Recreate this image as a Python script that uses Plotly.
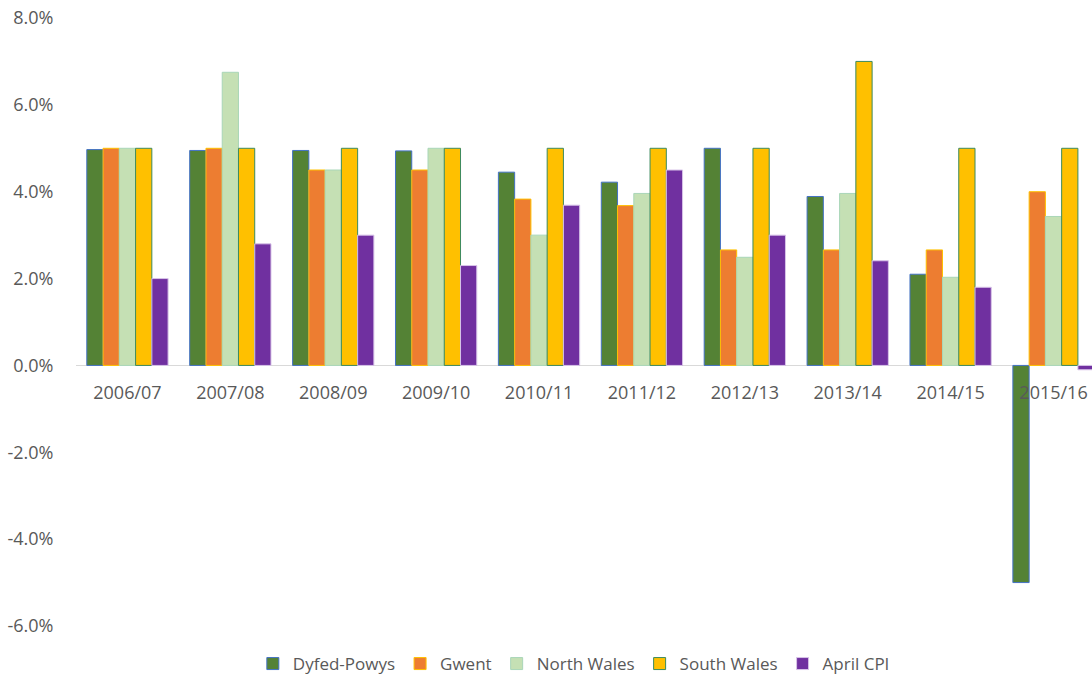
import plotly.graph_objects as go

# Annual change by force area vs April CPI (%)
years = ["2006/07", "2007/08", "2008/09", "2009/10", "2010/11",
         "2011/12", "2012/13", "2013/14", "2014/15", "2015/16"]

dyfed_powys = [4.97, 4.95, 4.95, 4.94, 4.45, 4.22, 5.0, 3.89, 2.1, -5.0]
gwent = [5.0, 5.0, 4.5, 4.5, 3.83, 3.68, 2.66, 2.66, 2.66, 4.0]
north_wales = [5.0, 6.75, 4.5, 5.0, 3.0, 3.96, 2.49, 3.96, 2.03, 3.43]
south_wales = [5.0, 5.0, 5.0, 5.0, 5.0, 5.0, 5.0, 7.0, 5.0, 5.0]
april_cpi = [2.0, 2.8, 3.0, 2.3, 3.69, 4.5, 3.0, 2.41, 1.8, -0.1]

y_tick_values = [-6, -4, -2, 0, 2, 4, 6, 8]
y_tick_labels = ["-6.0%", "-4.0%", "-2.0%", "0.0%", "2.0%", "4.0%", "6.0%", "8.0%"]

series = [
    ("Dyfed-Powys", dyfed_powys, "#548235", "#4472C4"),
    ("Gwent", gwent, "#ED7D31", "#FFC000"),
    ("North Wales", north_wales, "#C5E0B4", "#A9D6B8"),
    ("South Wales", south_wales, "#FFC000", "#3C8A5E"),
    ("April CPI", april_cpi, "#7030A0", "#D8C4E8"),
]

fig = go.Figure()
for name, vals, fill, edge in series:
    fig.add_trace(go.Bar(
        name=name, x=years, y=vals,
        marker=dict(color=fill, line=dict(color=edge, width=1)),
    ))

font_family = "Open Sans, sans-serif"
label_grey = "#595959"

top_px, bottom_px = 18, 53
plot_h = 679 - top_px - bottom_px
ymin, ymax = -6, 8
zero_pos = (0 - ymin) / (ymax - ymin)

fig.update_layout(
    width=1092, height=679,
    margin=dict(l=76, r=0, t=top_px, b=bottom_px, autoexpand=False),
    paper_bgcolor="white", plot_bgcolor="white",
    barmode="group", bargap=0.21, bargroupgap=0,
    font=dict(family=font_family, color=label_grey, size=18),
    showlegend=True,
    legend=dict(
        orientation="h", x=0.49, xanchor="center",
        y=-38 / plot_h, yanchor="middle",
        font=dict(size=17, color=label_grey), traceorder="normal",
        bgcolor="rgba(0,0,0,0)", itemwidth=30, borderwidth=0,
    ),
    xaxis=dict(
        type="category", range=[-0.5, 9.374],
        anchor="free", position=zero_pos,
        showline=False, showgrid=False, zeroline=False,
        ticks="outside", ticklen=11, tickcolor="rgba(0,0,0,0)",
        tickfont=dict(size=18, color=label_grey),
    ),
    yaxis=dict(
        range=[ymin, ymax],
        tickmode="array", tickvals=y_tick_values, ticktext=y_tick_labels,
        showgrid=False, showline=False,
        zeroline=True, zerolinecolor="#D9D9D9", zerolinewidth=1,
        ticks="outside", ticklen=18, tickcolor="rgba(0,0,0,0)",
        tickfont=dict(size=18, color=label_grey),
    ),
)

fig.write_html("out.html")
